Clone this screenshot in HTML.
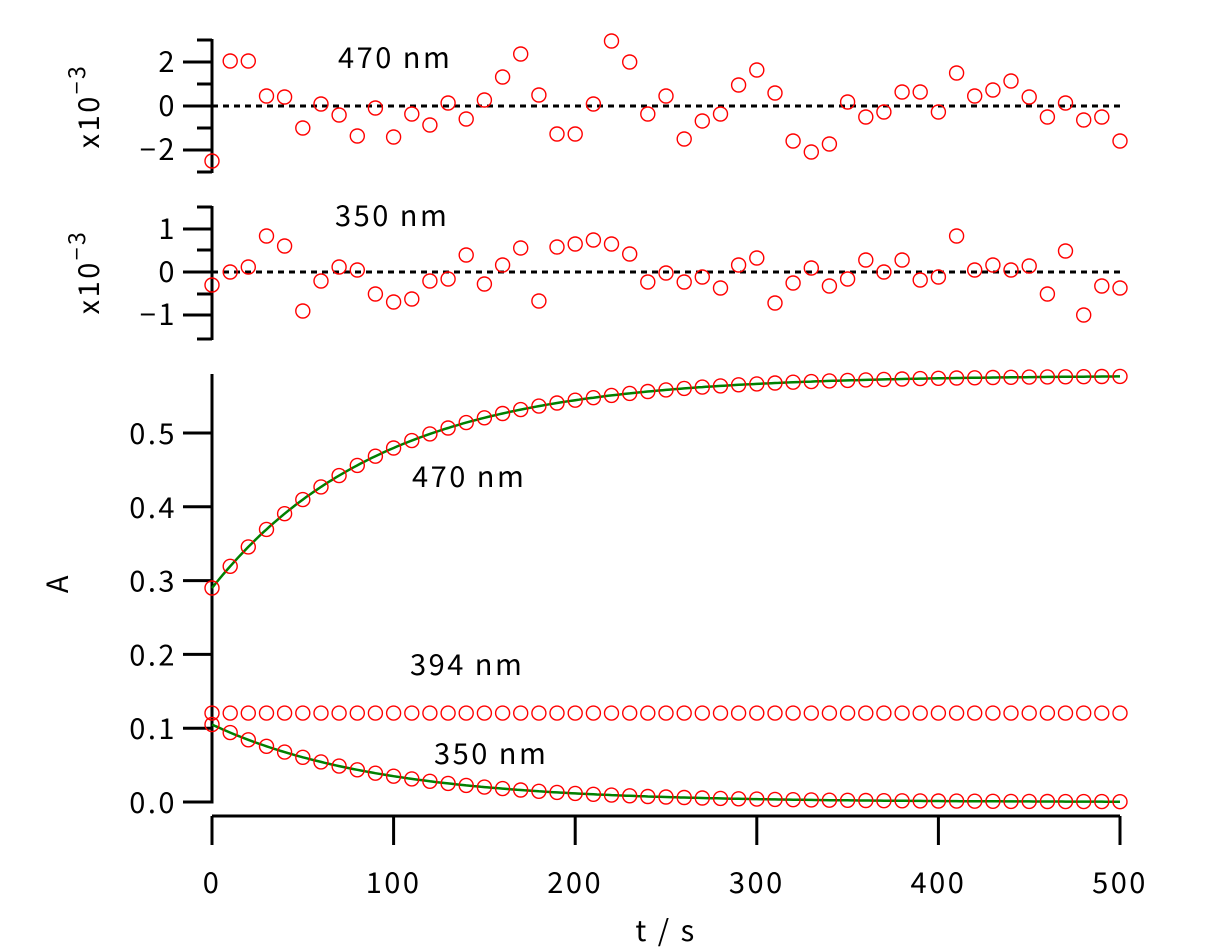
<!DOCTYPE html>
<html><head><meta charset="utf-8"><style>
html,body{margin:0;padding:0;background:#fff;}
svg{display:block;font-family:"Noto Sans CJK JP","Liberation Sans",sans-serif;}
text{letter-spacing:2.5px;}
</style></head><body>
<svg id="s" width="1211" height="948" viewBox="0 0 1211 948" xmlns="http://www.w3.org/2000/svg"></svg>
<script>
const s=document.getElementById('s');let h='';
const X=t=>212+t*1.816;
function line(x1,y1,x2,y2,w,extra){h+=`<line x1="${x1}" y1="${y1}" x2="${x2}" y2="${y2}" stroke="#000" stroke-width="${w}" ${extra||''}/>`;}
function txt(x,y,t,anchor,extra){h+=`<text x="${x}" y="${y}" font-size="29" text-anchor="${anchor||'start'}" ${extra||''}>${t}</text>`;}
function circ(x,y){h+=`<circle cx="${x.toFixed(1)}" cy="${y.toFixed(1)}" r="7" fill="none" stroke="#f00" stroke-width="1.4"/>`;}
line(212,39,212,173,3);
[[62,1],[106,1],[150,1],[40,0],[84,0],[128,0],[172,0]].forEach(([y,m])=>line(m?183:197,y,212,y,3));
txt(177,72,'2','end');txt(177,116,'0','end');txt(177,160,'\u22122','end');
line(212,106,1120,106,3,'stroke-dasharray="6,5"');
h+=`<text transform="translate(99,106) rotate(-90)" font-size="29" text-anchor="middle">x10<tspan dy="-14" font-size="23">\u22123</tspan></text>`;
txt(338,68,'470 nm');
const r1=[161,61,61,96,97,128,104,115,136,108,137,114,125,103,119,100,77,54,95,134,134,104,41,62,114,96,139,121,114,85,70,93,141,152,144,102,117,112,92,92,112,73,96,90,81,97,117,103,120,117,141];
r1.forEach((y,i)=>circ(X(i*10),y));
line(212,206,212,340,3);
[[229,1],[272,1],[315,1],[207,0],[250,0],[294,0],[339,0]].forEach(([y,m])=>line(m?183:197,y,212,y,3));
txt(177,239,'1','end');txt(177,282,'0','end');txt(177,325,'\u22121','end');
line(212,272,1120,272,3,'stroke-dasharray="6,5"');
h+=`<text transform="translate(99,272) rotate(-90)" font-size="29" text-anchor="middle">x10<tspan dy="-14" font-size="23">\u22123</tspan></text>`;
txt(335,226,'350 nm');
const r2=[285,272,267,236,246,311,281,267,270,294,302,299,281,279,255,284,265,248,301,247,244,240,244,254,282,273,282,277,288,265,258,303,283,268,286,279,260,272,260,280,277,236,270,265,270,266,294,251,315,286,288];
r2.forEach((y,i)=>circ(X(i*10),y));
const Y=a=>802-a*738;
line(212,374,212,803.5,3);
for(let k=0;k<=5;k++){const y=Y(k/10);line(183,y,212,y,3);txt(177,y+11,(k/10).toFixed(1),'end');}
line(212,816,1120,816,3);
for(let k=0;k<=5;k++){const x=X(k*100);line(x,816,x,845,3);txt(x,893,String(k*100),'middle');}
txt(666,941,'t / s','middle');
h+=`<text transform="translate(68,583) rotate(-90)" font-size="29" text-anchor="middle">A</text>`;
const f470=t=>0.578-0.288*Math.exp(-t/93), f350=t=>0.105*Math.exp(-t/91);
let p1='',p2='';for(let t=0;t<=500;t+=2){p1+=(t?'L':'M')+X(t).toFixed(1)+','+Y(f470(t)).toFixed(1);p2+=(t?'L':'M')+X(t).toFixed(1)+','+Y(f350(t)).toFixed(1);}
h+=`<path d="${p1}" fill="none" stroke="#008000" stroke-width="2.5"/><path d="${p2}" fill="none" stroke="#008000" stroke-width="2.5"/>`;
for(let i=0;i<=50;i++){const t=i*10;circ(X(t),Y(f470(t)));circ(X(t),Y(0.1205));circ(X(t),Y(f350(t)));}
txt(412,487,'470 nm');txt(410,675,'394 nm');txt(434,764,'350 nm');
s.innerHTML=h;
</script>
</body></html>
